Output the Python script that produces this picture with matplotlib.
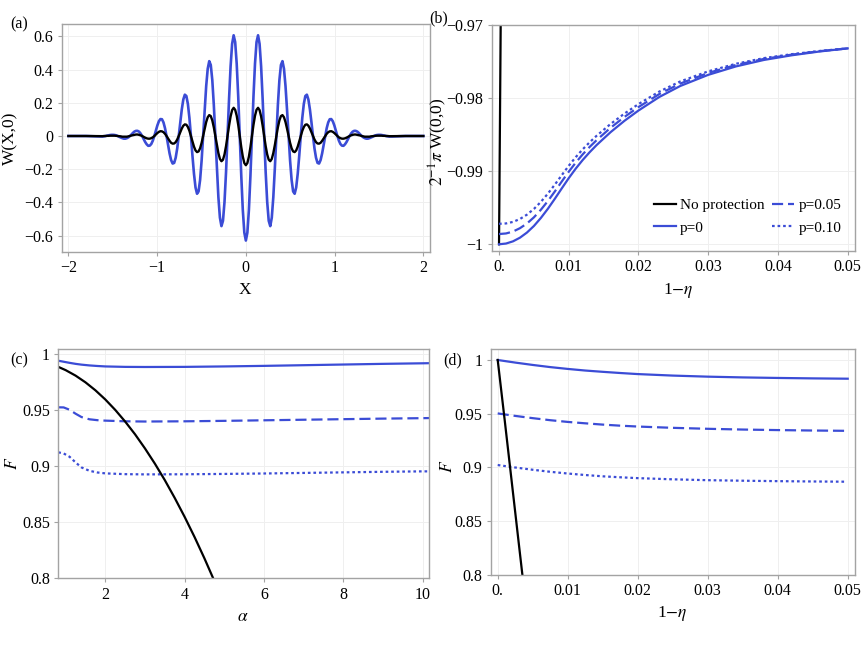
import matplotlib
matplotlib.use('Agg')
import matplotlib.pyplot as plt

plt.rcParams['font.family'] = ['Liberation Serif', 'DejaVu Serif']
plt.rcParams['mathtext.fontset'] = 'stix'

BLUE = '#3b4cd6'
BLACK = '#000000'

# ---------------- panel (a): W(X,0) ----------------
X_A = [-2.0, -1.8, -1.65, -1.6328, -1.6156, -1.5984, -1.5813, -1.5641, -1.5469, -1.5297,
       -1.5125, -1.4953, -1.4781, -1.4609, -1.4438, -1.4266, -1.4094, -1.3922, -1.375, -1.3578,
       -1.3406, -1.3234, -1.3063, -1.2891, -1.2719, -1.2547, -1.2375, -1.2203, -1.2031, -1.1859,
       -1.1688, -1.1516, -1.1344, -1.1172, -1.1, -1.0828, -1.0656, -1.0484, -1.0313, -1.0141,
       -0.9969, -0.9797, -0.9625, -0.9453, -0.9281, -0.9109, -0.8938, -0.8766, -0.8594, -0.8422,
       -0.825, -0.8078, -0.7906, -0.7734, -0.7563, -0.7391, -0.7219, -0.7047, -0.6875, -0.6703,
       -0.6531, -0.6359, -0.6188, -0.6016, -0.5844, -0.5672, -0.55, -0.5328, -0.5156, -0.4984,
       -0.4813, -0.4641, -0.4469, -0.4297, -0.4125, -0.3953, -0.3781, -0.3609, -0.3438, -0.3266,
       -0.3094, -0.2922, -0.275, -0.2578, -0.2406, -0.2234, -0.2063, -0.1891, -0.1719, -0.1547,
       -0.1375, -0.1203, -0.1031, -0.0859, -0.0688, -0.0516, -0.0344, -0.0172,
       0.0,
       0.0172, 0.0344, 0.0516, 0.0688, 0.0859, 0.1031, 0.1203, 0.1375, 0.1547, 0.1719,
       0.1891, 0.2063, 0.2234, 0.2406, 0.2578, 0.275, 0.2922, 0.3094, 0.3266, 0.3438,
       0.3609, 0.3781, 0.3953, 0.4125, 0.4297, 0.4469, 0.4641, 0.4813, 0.4984, 0.5156,
       0.5328, 0.55, 0.5672, 0.5844, 0.6016, 0.6188, 0.6359, 0.6531, 0.6703, 0.6875,
       0.7047, 0.7219, 0.7391, 0.7563, 0.7734, 0.7906, 0.8078, 0.825, 0.8422, 0.8594,
       0.8766, 0.8938, 0.9109, 0.9281, 0.9453, 0.9625, 0.9797, 0.9969, 1.0141, 1.0313,
       1.0484, 1.0656, 1.0828, 1.1, 1.1172, 1.1344, 1.1516, 1.1688, 1.1859, 1.2031,
       1.2203, 1.2375, 1.2547, 1.2719, 1.2891, 1.3063, 1.3234, 1.3406, 1.3578, 1.375,
       1.3922, 1.4094, 1.4266, 1.4438, 1.4609, 1.4781, 1.4953, 1.5125, 1.5297, 1.5469,
       1.5641, 1.5813, 1.5984, 1.6156, 1.6328, 1.65, 1.8, 2.0]
W_PROT = [0, 0, -0.003, -0.003, -0.003, -0.002, 0, 0.002, 0.004, 0.006,
          0.007, 0.007, 0.006, 0.004, 0, -0.005, -0.009, -0.013, -0.016, -0.016,
          -0.013, -0.008, 0, 0.009, 0.019, 0.027, 0.031, 0.031, 0.026, 0.015,
          0, -0.018, -0.036, -0.050, -0.059, -0.058, -0.048, -0.028, 0, 0.032,
          0.064, 0.089, 0.102, 0.101, 0.082, 0.047, 0, -0.053, -0.105, -0.145,
          -0.166, -0.162, -0.131, -0.075, 0, 0.083, 0.160, 0.220, 0.249, 0.241,
          0.193, 0.109, 0, -0.119, -0.228, -0.310, -0.348, -0.334, -0.265, -0.148,
          0, 0.158, 0.301, 0.405, 0.451, 0.428, 0.337, 0.187, 0, -0.196,
          -0.369, -0.492, -0.543, -0.511, -0.398, -0.219, 0, 0.225, 0.420, 0.555,
          0.607, 0.566, 0.436, 0.238, 0, -0.240, -0.445, -0.582,
          -0.630,
          -0.582, -0.445, -0.240, 0, 0.238, 0.436, 0.566, 0.607, 0.555, 0.420,
          0.225, 0, -0.219, -0.398, -0.511, -0.543, -0.492, -0.369, -0.196, 0,
          0.187, 0.337, 0.428, 0.451, 0.405, 0.301, 0.158, 0, -0.148, -0.265,
          -0.334, -0.348, -0.310, -0.228, -0.119, 0, 0.109, 0.193, 0.241, 0.249,
          0.220, 0.160, 0.083, 0, -0.075, -0.131, -0.162, -0.166, -0.145, -0.105,
          -0.053, 0, 0.047, 0.082, 0.101, 0.102, 0.089, 0.064, 0.032, 0,
          -0.028, -0.048, -0.058, -0.059, -0.050, -0.036, -0.018, 0, 0.015, 0.026,
          0.031, 0.031, 0.027, 0.019, 0.009, 0, -0.008, -0.013, -0.016, -0.016,
          -0.013, -0.009, -0.005, 0, 0.004, 0.006, 0.007, 0.007, 0.006, 0.004,
          0.002, 0, -0.002, -0.003, -0.003, -0.003, 0, 0]
W_NOPROT = [0, 0, -0.001, -0.001, -0.001, 0, 0, 0.001, 0.001, 0.002,
            0.002, 0.002, 0.002, 0.001, 0, -0.001, -0.002, -0.004, -0.004, -0.004,
            -0.004, -0.002, 0, 0.003, 0.005, 0.007, 0.009, 0.009, 0.007, 0.004,
            0, -0.005, -0.010, -0.014, -0.016, -0.016, -0.013, -0.008, 0, 0.009,
            0.018, 0.025, 0.029, 0.028, 0.023, 0.013, 0, -0.015, -0.029, -0.041,
            -0.046, -0.045, -0.037, -0.021, 0, 0.023, 0.045, 0.062, 0.070, 0.068,
            0.054, 0.031, 0, -0.033, -0.064, -0.087, -0.097, -0.093, -0.074, -0.041,
            0, 0.044, 0.084, 0.113, 0.126, 0.120, 0.094, 0.052, 0, -0.055,
            -0.103, -0.138, -0.152, -0.143, -0.111, -0.061, 0, 0.063, 0.118, 0.156,
            0.170, 0.158, 0.122, 0.067, 0, -0.067, -0.124, -0.163,
            -0.176,
            -0.163, -0.124, -0.067, 0, 0.067, 0.122, 0.158, 0.170, 0.156, 0.118,
            0.063, 0, -0.061, -0.111, -0.143, -0.152, -0.138, -0.103, -0.055, 0,
            0.052, 0.094, 0.120, 0.126, 0.113, 0.084, 0.044, 0, -0.041, -0.074,
            -0.093, -0.097, -0.087, -0.064, -0.033, 0, 0.031, 0.054, 0.068, 0.070,
            0.062, 0.045, 0.023, 0, -0.021, -0.037, -0.045, -0.046, -0.041, -0.029,
            -0.015, 0, 0.013, 0.023, 0.028, 0.029, 0.025, 0.018, 0.009, 0,
            -0.008, -0.013, -0.016, -0.016, -0.014, -0.010, -0.005, 0, 0.004, 0.007,
            0.009, 0.009, 0.007, 0.005, 0.003, 0, -0.002, -0.004, -0.004, -0.004,
            -0.004, -0.002, -0.001, 0, 0.001, 0.002, 0.002, 0.002, 0.002, 0.001,
            0.001, 0, 0, -0.001, -0.001, -0.001, 0, 0]

# ---------------- panel (b): 2^-1 pi W(0,0) vs 1-eta ----------------
ETA_B = [0, 0.001, 0.002, 0.003, 0.004, 0.005, 0.006, 0.007, 0.008, 0.009,
         0.010, 0.011, 0.012, 0.013, 0.014, 0.016, 0.018, 0.020, 0.023, 0.026,
         0.030, 0.034, 0.038, 0.042, 0.046, 0.050]
WB_P0 = [-1.0, -0.9999, -0.9996, -0.9991, -0.9984, -0.9975, -0.9964, -0.99515, -0.99378, -0.99235,
         -0.99095, -0.98965, -0.98847, -0.9874, -0.98642, -0.98466, -0.9831, -0.9817, -0.97984, -0.97834,
         -0.97682, -0.97566, -0.97478, -0.97414, -0.97362, -0.9732]
WB_P05 = [-0.9986, -0.99852, -0.99826, -0.9978, -0.99716, -0.99632, -0.99528, -0.99409, -0.99278, -0.99141,
          -0.99007, -0.98883, -0.9877, -0.98668, -0.98575, -0.98406, -0.98257, -0.98123, -0.97944, -0.97801,
          -0.97656, -0.97546, -0.97464, -0.97405, -0.97358, -0.9732]
WB_P10 = [-0.9972, -0.99715, -0.99694, -0.99654, -0.99595, -0.99517, -0.9942, -0.99308, -0.99184, -0.99054,
          -0.98926, -0.98808, -0.98701, -0.98604, -0.98515, -0.98354, -0.98211, -0.98082, -0.9791, -0.97772,
          -0.97634, -0.9753, -0.97453, -0.97399, -0.97355, -0.9732]
ETA_B_NOPROT = [0, 0.00024, 0.0003]
WB_NOPROT = [-1.0, -0.97, -0.9625]

# ---------------- panel (c): F vs alpha ----------------
ALPHA_NOPROT = [0.815, 1.0, 1.25, 1.5, 1.75, 2.0, 2.25, 2.5, 2.75, 3.0, 3.25, 3.5,
                3.75, 4.0, 4.25, 4.5, 4.75, 5.0]
FC_NOPROT = [0.9888, 0.9859, 0.9810, 0.9750, 0.9679, 0.9597, 0.9504, 0.9400, 0.9286, 0.9160,
             0.9024, 0.8877, 0.8718, 0.8549, 0.8369, 0.8178, 0.7976, 0.7764]
ALPHA_C = [0.815, 0.95, 1.1, 1.25, 1.4, 1.6, 1.8, 2.0, 2.5, 3.0, 4.0, 5.0, 6.0, 7.0, 8.0, 9.0, 10.0, 10.17]
FC_P0 = [0.9943, 0.9934, 0.9924, 0.9915, 0.9908, 0.9901, 0.9896, 0.9892, 0.9888, 0.9887,
         0.9888, 0.9892, 0.9897, 0.9903, 0.9909, 0.9915, 0.9920, 0.9921]
FC_P05 = [0.9527, 0.9526, 0.9505, 0.9470, 0.9440, 0.9420, 0.9412, 0.9408, 0.9402, 0.9400,
          0.9402, 0.9406, 0.9411, 0.9416, 0.9421, 0.9426, 0.9430, 0.9431]
FC_P10 = [0.9125, 0.9115, 0.9085, 0.9035, 0.8990, 0.8960, 0.8945, 0.8937, 0.8930, 0.8928,
          0.8929, 0.8932, 0.8936, 0.8941, 0.8946, 0.8951, 0.8955, 0.8955]

# ---------------- panel (d): F vs 1-eta ----------------
ETA_D_NOPROT = [0, 0.001, 0.002, 0.003, 0.0036]
FD_NOPROT = [1.0, 0.944, 0.887, 0.830, 0.796]
ETA_D = [0, 0.0025, 0.005, 0.0075, 0.01, 0.0125, 0.015, 0.0175, 0.02, 0.025,
         0.03, 0.035, 0.04, 0.045, 0.05]
FD_P0 = [1.0, 0.9976, 0.9954, 0.9934, 0.9917, 0.9902, 0.9890, 0.9879, 0.9869, 0.9855,
         0.9845, 0.9838, 0.9833, 0.9829, 0.9826]
FD_P05 = [0.9503, 0.9480, 0.9459, 0.9440, 0.9424, 0.9411, 0.9399, 0.9389, 0.9381, 0.9369,
          0.9360, 0.9353, 0.9348, 0.9344, 0.9341]
ETA_D10 = [0, 0.0025, 0.005, 0.0075, 0.01, 0.0125, 0.015, 0.0175, 0.02, 0.025,
           0.03, 0.035, 0.04, 0.045, 0.0495]
FD_P10 = [0.9023, 0.9000, 0.8979, 0.8960, 0.8944, 0.8930, 0.8918, 0.8909, 0.8901, 0.8890,
          0.8882, 0.8877, 0.8873, 0.8870, 0.8868]

TICKS_A_X = [-2, -1, 0, 1, 2]
TICKS_A_Y = [-0.6, -0.4, -0.2, 0, 0.2, 0.4, 0.6]
LABELS_A_X = ['\u22122', '\u22121', '0', '1', '2']
LABELS_A_Y = ['\u22120.6', '\u22120.4', '\u22120.2', '0', '0.2', '0.4', '0.6']
TICKS_ETA = [0, 0.01, 0.02, 0.03, 0.04, 0.05]
LABELS_ETA = ['0.', '0.01', '0.02', '0.03', '0.04', '0.05']
TICKS_B_Y = [-1.0, -0.99, -0.98, -0.97]
LABELS_B_Y = ['\u22121', '\u22120.99', '\u22120.98', '\u22120.97']
TICKS_C_X = [2, 4, 6, 8, 10]
TICKS_F = [0.8, 0.85, 0.9, 0.95, 1.0]
LABELS_F = ['0.8', '0.85', '0.9', '0.95', '1']

FS_TICK = 11.5
FS_LAB = 12.5

fig = plt.figure(figsize=(8.65, 6.49), dpi=100)
W, H = 865.0, 649.0


def make_ax(l, t, r, b):
    return fig.add_axes([l / W, 1 - b / H, (r - l) / W, (b - t) / H])


def style(ax):
    for s in ax.spines.values():
        s.set_color('#a3a3a3')
        s.set_linewidth(1.0)
    ax.tick_params(direction='out', length=3, width=0.8, color='#a3a3a3',
                   labelsize=FS_TICK, labelcolor='black', pad=3,
                   top=False, right=False)
    ax.grid(True, color='#efefef', linewidth=0.7)
    ax.set_axisbelow(True)


DASH = (0, (5, 2.2))
DOT = (0, (1.2, 1.3))
LW = 1.6

# (a)
axA = make_ax(61.7, 24, 430, 252)
style(axA)
axA.plot(X_A, W_PROT, color=BLUE, lw=1.9)
axA.plot(X_A, W_NOPROT, color=BLACK, lw=1.7)
axA.set_xlim(-2.075, 2.075)
axA.set_ylim(-0.699, 0.675)
axA.set_xticks(TICKS_A_X, LABELS_A_X)
axA.set_yticks(TICKS_A_Y, LABELS_A_Y)

# (b)
axB = make_ax(491.7, 25, 855, 251)
style(axB)
lb0, = axB.plot(ETA_B_NOPROT, WB_NOPROT, color=BLACK, lw=LW, label='No protection')
lb1, = axB.plot(ETA_B, WB_P0, color=BLUE, lw=LW, label='p=0')
lb2, = axB.plot(ETA_B, WB_P05, color=BLUE, lw=LW, ls=DASH, label='p=0.05')
lb3, = axB.plot(ETA_B, WB_P10, color=BLUE, lw=LW, ls=DOT, label='p=0.10')
axB.set_xlim(-0.00105, 0.05105)
axB.set_ylim(-1.00092, -0.97)
axB.set_xticks(TICKS_ETA, LABELS_ETA)
axB.set_yticks(TICKS_B_Y, LABELS_B_Y)
axB.legend(handles=[lb0, lb1, lb2, lb3], ncol=2, frameon=False, fontsize=11,
           handlelength=1.4, handletextpad=0.3, columnspacing=0.5, labelspacing=0.55,
           loc='lower right', bbox_to_anchor=(1.0, 0.012))

# (c)
axC = make_ax(58.3, 349.3, 429.3, 578.3)
style(axC)
axC.plot(ALPHA_C, FC_P0, color=BLUE, lw=LW)
axC.plot(ALPHA_C, FC_P05, color=BLUE, lw=LW, ls=DASH)
axC.plot(ALPHA_C, FC_P10, color=BLUE, lw=LW, ls=DOT)
axC.plot(ALPHA_NOPROT, FC_NOPROT, color=BLACK, lw=LW)
axC.set_xlim(0.815, 10.17)
axC.set_ylim(0.8, 1.0045)
axC.set_xticks(TICKS_C_X)
axC.set_yticks(TICKS_F, LABELS_F)

# (d)
axD = make_ax(490.7, 349.3, 855, 575)
style(axD)
axD.plot(ETA_D, FD_P0, color=BLUE, lw=LW)
axD.plot(ETA_D, FD_P05, color=BLUE, lw=LW, ls=DASH)
axD.plot(ETA_D10, FD_P10, color=BLUE, lw=LW, ls=DOT)
axD.plot(ETA_D_NOPROT, FD_NOPROT, color=BLACK, lw=LW)
axD.set_xlim(-0.001, 0.05104)
axD.set_ylim(0.8, 1.00995)
axD.set_xticks(TICKS_ETA, LABELS_ETA)
axD.set_yticks(TICKS_F, LABELS_F)


def ftext(x, y, s, **kw):
    fig.text(x / W, 1 - y / H, s, ha='center', va='center', **kw)


# axis labels
ftext(245.3, 290, 'X', fontsize=FS_LAB)
ftext(10, 138, 'W(X,0)', fontsize=FS_LAB, rotation=90)
ftext(678, 290, r'1$-\eta$', fontsize=FS_LAB)
ftext(438, 142, r'$2^{-1}\pi$ W(0,0)', fontsize=FS_LAB, rotation=90)
ftext(242.7, 616.7, r'$\alpha$', fontsize=FS_LAB)
ftext(13, 463, r'$F$', fontsize=FS_LAB, rotation=90)
ftext(671.7, 613.3, r'1$-\eta$', fontsize=FS_LAB)
ftext(448.3, 466.7, r'$F$', fontsize=FS_LAB, rotation=90)

# panel letters
ftext(19, 24, '(a)', fontsize=11.5)
ftext(438.5, 18, '(b)', fontsize=11.5)
ftext(19, 360, '(c)', fontsize=11.5)
ftext(453, 360, '(d)', fontsize=11.5)

fig.savefig('out.png', dpi=100)
